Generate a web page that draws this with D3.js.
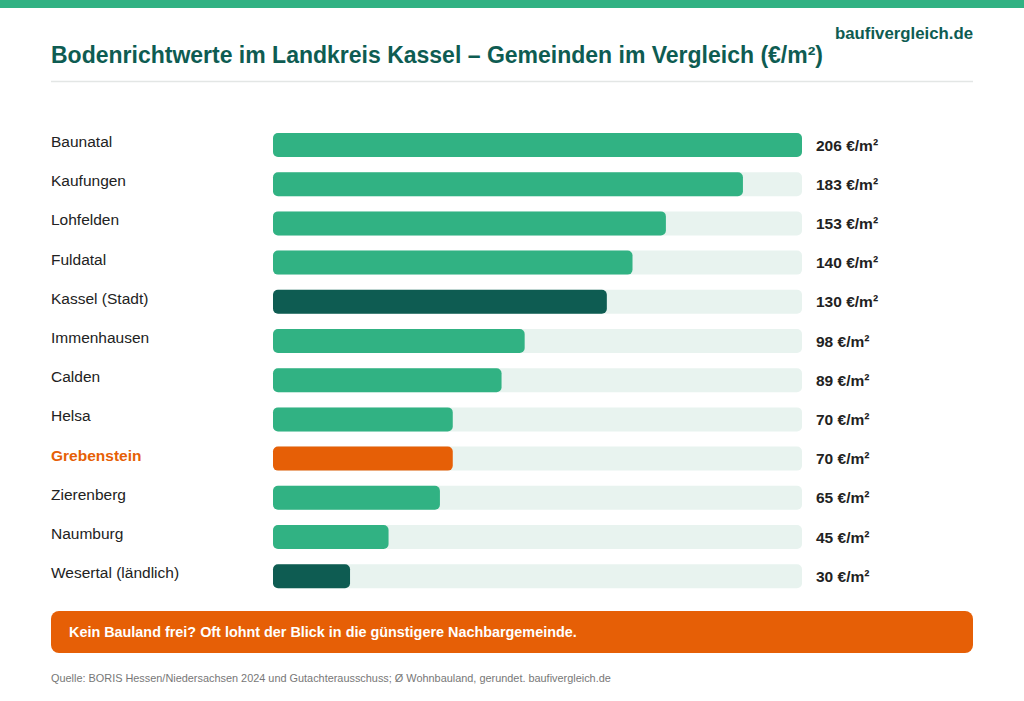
<!DOCTYPE html>
<html lang="de">
<head>
<meta charset="UTF-8">
<title>Bodenrichtwerte Landkreis Kassel</title>
<style>
    body { margin: 0; background: #fff; }
    svg text { font-family: "Liberation Sans", Arial, sans-serif; }
</style>
</head>
<body>
<script src="https://cdn.jsdelivr.net/npm/d3@7"></script>
<script>
    const gemeinden = ['Baunatal', 'Kaufungen', 'Lohfelden', 'Fuldatal', 'Kassel (Stadt)', 'Immenhausen',
        'Calden', 'Helsa', 'Grebenstein', 'Zierenberg', 'Naumburg', 'Wesertal (ländlich)'];
    const werte = [206, 183, 153, 140, 130, 98, 89, 70, 70, 65, 45, 30];
    // highlight type per row: n = normal, d = dark, o = orange
    const typen = ['n', 'n', 'n', 'n', 'd', 'n', 'n', 'n', 'o', 'n', 'n', 'd'];

    const title = 'Bodenrichtwerte im Landkreis Kassel – Gemeinden im Vergleich (€/m²)';
    const brand = 'baufivergleich.de';
    const hinweis = 'Kein Bauland frei? Oft lohnt der Blick in die günstigere Nachbargemeinde.';
    const quelle = 'Quelle: BORIS Hessen/Niedersachsen 2024 und Gutachterausschuss; Ø Wohnbauland, gerundet. baufivergleich.de';

    const w = 1024, h = 701;
    const green = '#31b283', dark = '#0e5c52', orange = '#e65f06', track = '#e8f3ef';
    const colors = { n: green, d: dark, o: orange };

    const svg = d3.select('body').append('svg')
        .attr('width', w)
        .attr('height', h);

    svg.append('rect').attr('x', 0).attr('y', 0).attr('width', w).attr('height', 8).attr('fill', green);

    svg.append('text')
        .attr('x', 973).attr('y', 39)
        .attr('text-anchor', 'end')
        .attr('font-size', 16.8).attr('font-weight', 'bold')
        .attr('fill', dark)
        .text(brand);

    svg.append('text')
        .attr('x', 51).attr('y', 63)
        .attr('font-size', 23).attr('font-weight', 'bold')
        .attr('fill', dark)
        .text(title);

    svg.append('line')
        .attr('x1', 51).attr('x2', 973).attr('y1', 81.5).attr('y2', 81.5)
        .attr('stroke', '#e3e6e5').attr('stroke-width', 1.5);

    const x = d3.scaleLinear().domain([0, d3.max(werte)]).range([273, 802]);
    const y = d3.scaleBand().domain(gemeinden).range([125.4, 595.8])
        .paddingInner(0.388).paddingOuter(0.194);

    const rows = svg.append('g').selectAll('g')
        .data(gemeinden)
        .join('g');

    rows.append('rect')
        .attr('x', x(0)).attr('y', d => y(d))
        .attr('width', x.range()[1] - x(0)).attr('height', y.bandwidth())
        .attr('rx', 5)
        .attr('fill', track);

    rows.append('rect')
        .attr('x', x(0)).attr('y', d => y(d))
        .attr('width', (d, i) => x(werte[i]) - x(0)).attr('height', y.bandwidth())
        .attr('rx', 5)
        .attr('fill', (d, i) => colors[typen[i]]);

    rows.append('text')
        .attr('x', 51).attr('y', d => y(d) + y.bandwidth() / 2 + 2)
        .attr('font-size', 15.5)
        .attr('font-weight', (d, i) => typen[i] === 'o' ? 'bold' : 'normal')
        .attr('fill', (d, i) => typen[i] === 'o' ? orange : '#222')
        .text(d => d);

    rows.append('text')
        .attr('x', 816).attr('y', d => y(d) + y.bandwidth() / 2 + 5.5)
        .attr('font-size', 15.5).attr('font-weight', 'bold')
        .attr('fill', '#222')
        .text((d, i) => werte[i] + ' €/m²');

    svg.append('rect')
        .attr('x', 51).attr('y', 611).attr('width', 922).attr('height', 42)
        .attr('rx', 8).attr('fill', orange);

    svg.append('text')
        .attr('x', 69).attr('y', 637)
        .attr('font-size', 14.4).attr('font-weight', 'bold')
        .attr('fill', '#fff')
        .text(hinweis);

    svg.append('text')
        .attr('x', 51).attr('y', 682)
        .attr('font-size', 10.9)
        .attr('fill', '#777')
        .text(quelle);
</script>
</body>
</html>
